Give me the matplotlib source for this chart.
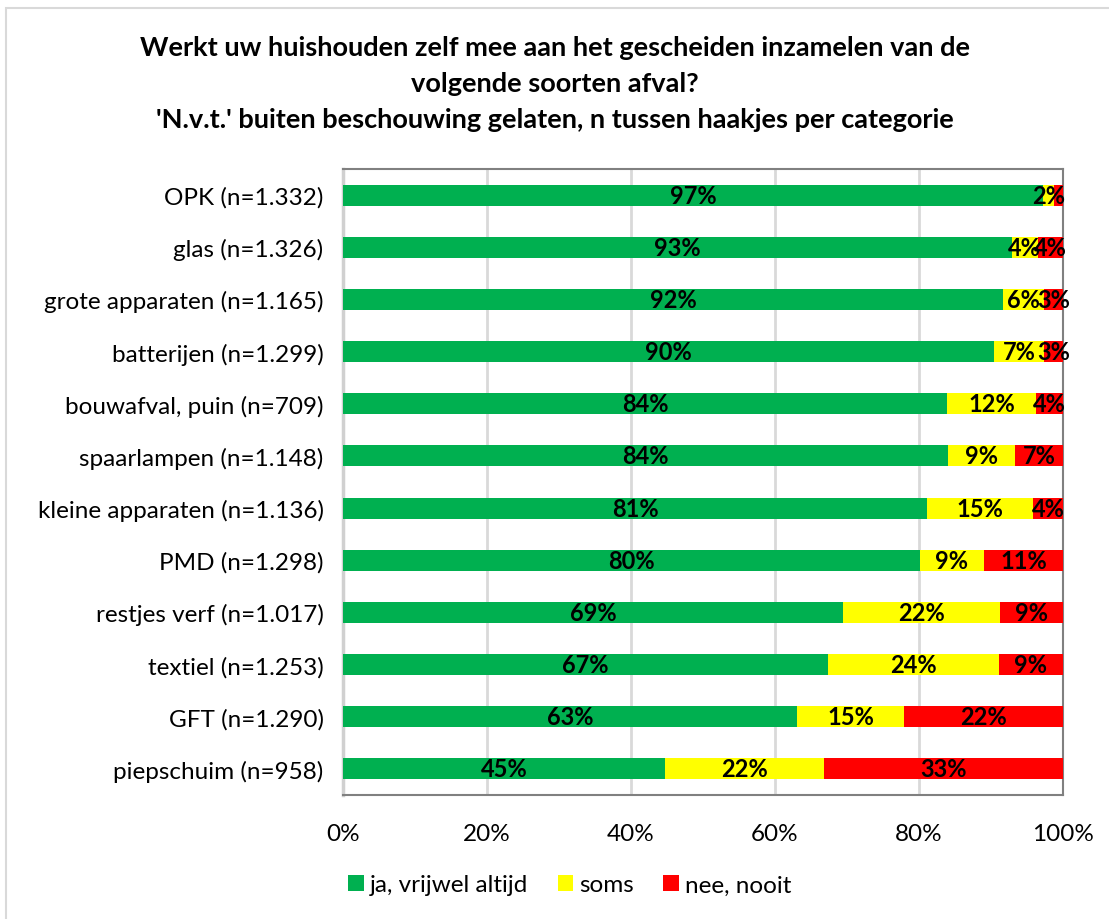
import numpy as np
import matplotlib.pyplot as plt
from matplotlib.patches import Rectangle

plt.rcParams['font.family'] = ['Lato', 'DejaVu Sans']

# data (percentages)
categories = ["OPK (n=1.332)", "glas (n=1.326)", "grote apparaten (n=1.165)",
              "batterijen (n=1.299)", "bouwafval, puin (n=709)", "spaarlampen (n=1.148)",
              "kleine apparaten (n=1.136)", "PMD (n=1.298)", "restjes verf (n=1.017)",
              "textiel (n=1.253)", "GFT (n=1.290)", "piepschuim (n=958)"]
ja = [97.2, 92.9, 91.7, 90.4, 83.9, 84.0, 81.1, 80.1, 69.4, 67.4, 63.1, 44.7]
soms = [1.6, 3.6, 5.7, 7.0, 12.4, 9.3, 14.7, 8.9, 21.8, 23.7, 14.8, 22.1]
nee = [1.2, 3.5, 2.6, 2.6, 3.7, 6.7, 4.2, 11.0, 8.8, 8.9, 22.1, 33.2]

series = [("ja, vrijwel altijd", ja, "#00b050"),
          ("soms", soms, "#ffff00"),
          ("nee, nooit", nee, "#ff0000")]

title = ("Werkt uw huishouden zelf mee aan het gescheiden inzamelen van de\n"
         "volgende soorten afval?\n"
         "'N.v.t.' buiten beschouwing gelaten, n tussen haakjes per categorie")

fig = plt.figure(figsize=(11.09, 9.2), dpi=100)
ax = fig.add_axes([343/1109, 1-796/920, 720/1109, 626/920])

# chart border
fig.patches.append(Rectangle((6/1109, -0.01), 1.2, 1-9/920+0.01, transform=fig.transFigure,
                             fill=False, edgecolor="#d9d9d9", linewidth=1.5, zorder=-1))

y = np.arange(len(categories))
left = np.zeros(len(categories))
for name, vals, col in series:
    vals = np.array(vals)
    ax.barh(y, vals, left=left, height=0.4, color=col, label=name, zorder=3)
    for yi, l, v in zip(y, left, vals):
        if round(v) >= 2:
            ax.text(l + v/2, yi, f"{v:.0f}%", ha="center", va="center",
                    fontsize=17, fontweight="bold", color="black", zorder=4)
    left += vals

ax.set_xlim(0, 100)
ax.set_ylim(len(categories) - 0.5, -0.5)
ax.set_yticks(y)
ax.set_yticklabels(categories, fontsize=17.5)
ax.set_xticks(np.arange(0, 101, 20))
ax.set_xticklabels([f"{t}%" for t in range(0, 101, 20)], fontsize=17.5)
ax.tick_params(length=0)
ax.tick_params(axis="y", pad=14)
ax.tick_params(axis="x", pad=20)
ax.grid(axis="x", color="#d9d9d9", linewidth=2, zorder=0)
for s in ax.spines.values():
    s.set_color("#808080")
    s.set_linewidth(1.5)
ax.spines["left"].set_color("#d0d0d0")
ax.spines["left"].set_linewidth(2.5)

fig.text(0.5, 1-36/920, title, ha="center", va="top", fontsize=19.5,
         fontweight="bold", linespacing=1.6)

handles, labels = ax.get_legend_handles_labels()
fig.legend(handles, labels, loc="center", bbox_to_anchor=(570/1109, 1-886/920), ncol=3,
           frameon=False, fontsize=17.5, handlelength=0.65, handleheight=0.65,
           handletextpad=0.25, columnspacing=1.2)

fig.savefig("out.png", dpi=100)
